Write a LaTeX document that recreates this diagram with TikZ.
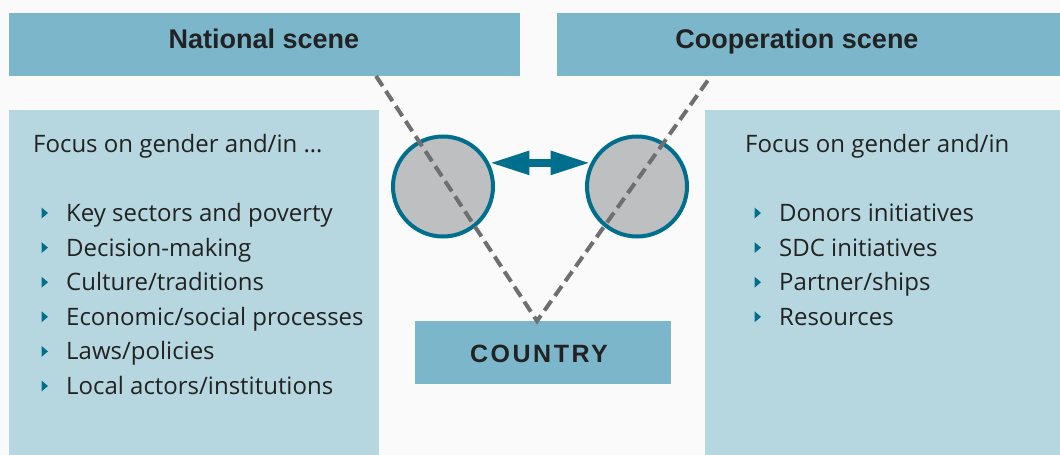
\documentclass[tikz,border=0pt]{standalone}
\usepackage{fontspec}
\setmainfont{Open Sans}
\newfontfamily\headfont{Liberation Sans}
\usetikzlibrary{arrows.meta}
\definecolor{headblue}{HTML}{7BB6CB}
\definecolor{lightblue}{HTML}{B6D7E0}
\definecolor{teal}{HTML}{006F8E}
\definecolor{circgray}{HTML}{BEBFC1}
\definecolor{dashgray}{HTML}{6E6F71}
\definecolor{txt}{HTML}{222222}
\definecolor{bg}{HTML}{FAFAFA}
\tikzset{
  headfill/.style={fill=headblue},
  headtext/.style={anchor=base, inner sep=0pt, font=\headfont\bfseries\fontsize{27}{31}\selectfont, text=txt},
  panel/.style={fill=lightblue},
  ring/.style={circle, draw=teal, line width=4pt, fill=circgray, minimum size=100pt, inner sep=0pt},
  dashline/.style={draw=dashgray, line width=4pt, dash pattern=on 12pt off 6pt},
  bodytext/.style={anchor=base west, inner sep=0pt, font=\fontsize{24}{28}\selectfont, text=txt},
  bul/.style={fill=teal, draw=none},
}
\begin{document}
\begin{tikzpicture}[x=1pt,y=-1pt]
\useasboundingbox (0,0) rectangle (1060,455);
\fill[bg] (0,0) rectangle (1060,455);
% header boxes
\path[headfill] (9,13) rectangle (520,76);
\node[headtext] (nat) at (264,48) {National scene};
\path[headfill] (557,13) rectangle (1060,76);
\node[headtext] (coop) at (797,48) {Cooperation scene};
% panels
\path[panel] (9,110) rectangle (379,455);
\path[panel] (705,110) rectangle (1060,455);
% country box
\path[headfill] (415,321) rectangle (671,384);
\node[anchor=base, inner sep=0pt, font=\headfont\bfseries\addfontfeatures{LetterSpace=10}\fontsize{25}{29}\selectfont, text=txt] (country) at (539,362) {COUNTRY};
% left texts
\node[bodytext] (lt) at (33,152) {Focus on gender and/in \dots};
\foreach \t [count=\i] in {Key sectors and poverty, Decision-making, Culture/traditions, Economic/social processes, Laws/policies, Local actors/institutions}{
  \pgfmathsetmacro{\yy}{213+34.6*(\i-1)}
  \node[bodytext] (li\i) at (66,\yy+8.5) {\t};
  \fill[bul] (41.5,\yy-5.5) -- (48,\yy) -- (41.5,\yy+5.5) -- cycle;
}
% right texts
\node[bodytext] (rt) at (745,152) {Focus on gender and/in};
\foreach \t [count=\i] in {Donors initiatives, SDC initiatives, Partner/ships, Resources}{
  \pgfmathsetmacro{\yy}{213+34.6*(\i-1)}
  \node[bodytext] (ri\i) at (779,\yy+8.5) {\t};
  \fill[bul] (754.5,\yy-5.5) -- (761,\yy) -- (754.5,\yy+5.5) -- cycle;
}
% circles
\node[ring] (cl) at (443,186.5) {};
\node[ring] (cr) at (637,186.5) {};
% dashed lines
\coordinate (ntop) at (376,76);
\coordinate (apex) at (537,321);
\coordinate (ctop) at (711,76);
\draw[dashline, line join=miter] (ntop) -- (apex) -- (ctop);
% double arrow
\draw[teal, line width=8pt, {Triangle[length=40pt,width=22pt]}-{Triangle[length=40pt,width=22pt]}] (cl.27) -- (cr.153);
\end{tikzpicture}
\end{document}
